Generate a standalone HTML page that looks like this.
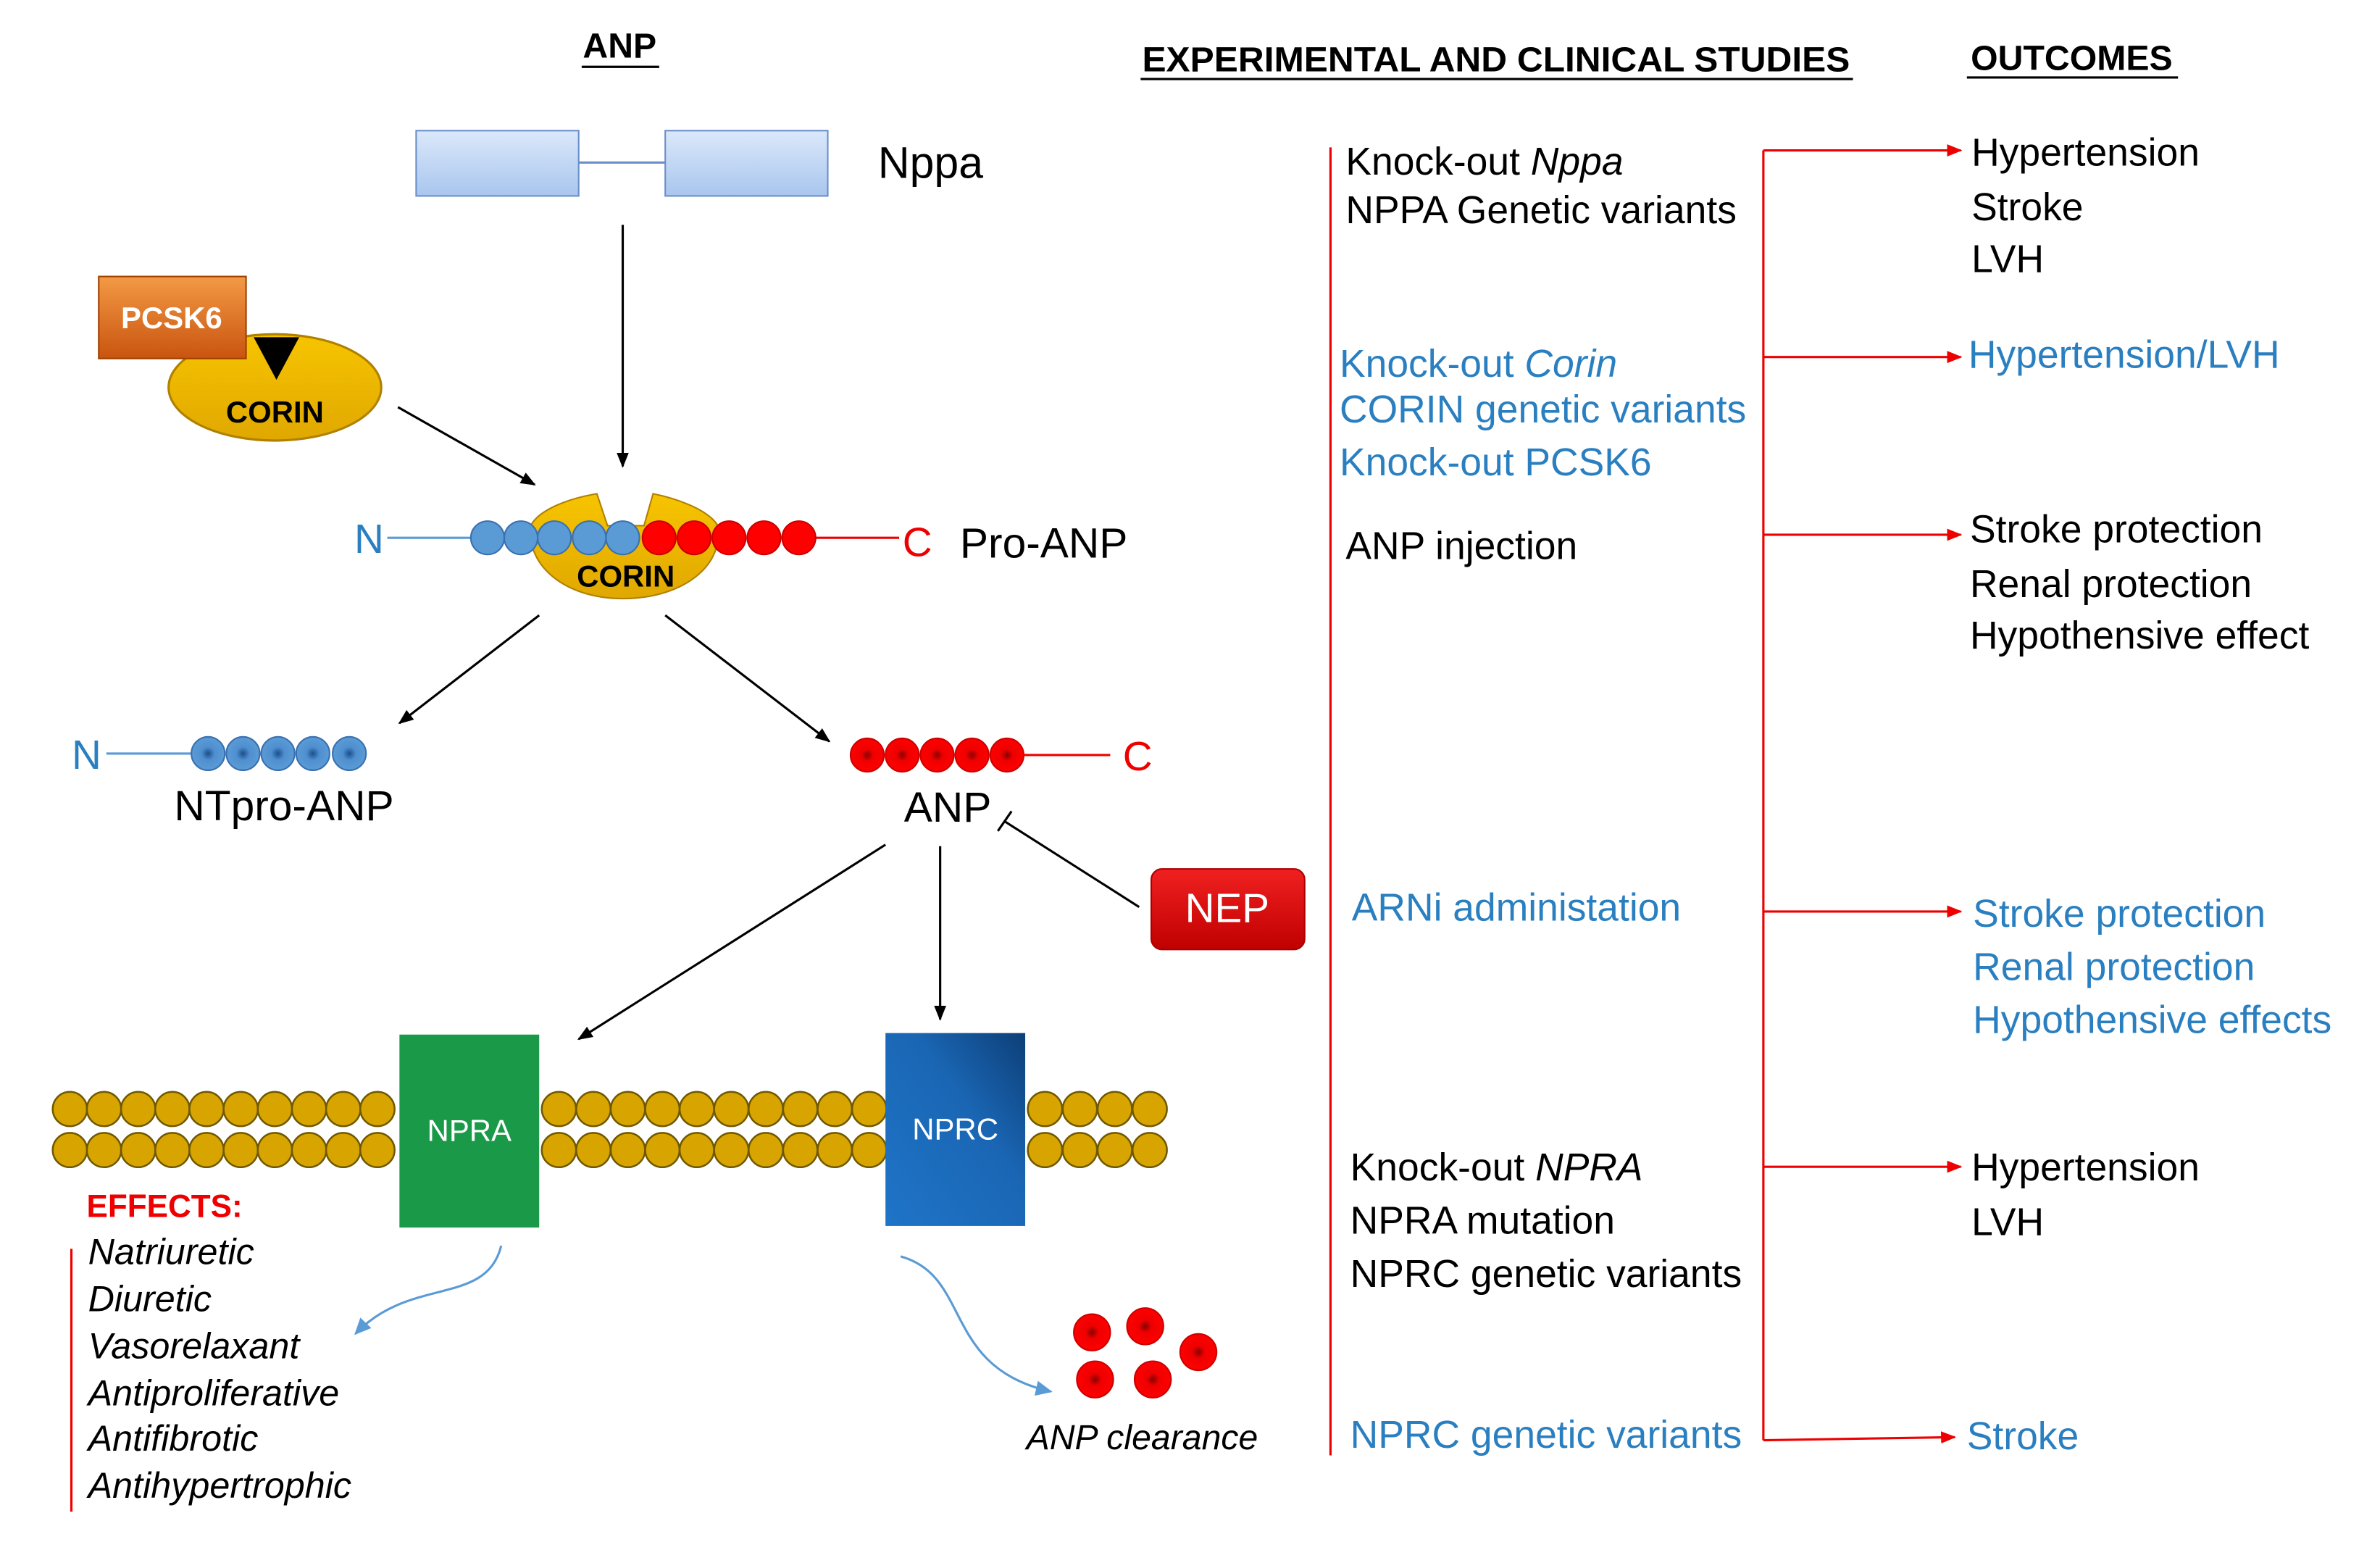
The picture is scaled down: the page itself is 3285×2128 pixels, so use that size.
<!DOCTYPE html>
<html><head><meta charset="utf-8"><style>html,body{margin:0;padding:0;background:#fff}svg{display:block}</style></head>
<body>
<svg width="3285" height="2128" viewBox="0 0 1567 1015" preserveAspectRatio="none" xmlns="http://www.w3.org/2000/svg" font-family="'Liberation Sans', sans-serif" xml:space="preserve">
<defs>
<linearGradient id="gb" x1="0" y1="0" x2="0" y2="1"><stop offset="0" stop-color="#dbe8fa"/><stop offset="1" stop-color="#a9c6ee"/></linearGradient>
<linearGradient id="go" x1="0" y1="0" x2="0" y2="1"><stop offset="0" stop-color="#f39a45"/><stop offset="1" stop-color="#c9540f"/></linearGradient>
<linearGradient id="gc" x1="0" y1="0" x2="0" y2="1"><stop offset="0" stop-color="#f7c400"/><stop offset="1" stop-color="#e0a800"/></linearGradient>
<linearGradient id="gn" x1="0" y1="1" x2="1" y2="0"><stop offset="0" stop-color="#1f74c8"/><stop offset="0.6" stop-color="#1a66b4"/><stop offset="1" stop-color="#0d3f78"/></linearGradient>
<linearGradient id="gr" x1="0" y1="0" x2="0" y2="1"><stop offset="0" stop-color="#f02020"/><stop offset="1" stop-color="#c00000"/></linearGradient>
<radialGradient id="bl"><stop offset="0" stop-color="#1b4f8a"/><stop offset="0.4" stop-color="#4f8fd0"/><stop offset="1" stop-color="#5b9bd5"/></radialGradient>
<radialGradient id="rd"><stop offset="0" stop-color="#800"/><stop offset="0.35" stop-color="#e00"/><stop offset="1" stop-color="#f00"/></radialGradient>
<marker id="ak" markerWidth="10" markerHeight="10" refX="9" refY="5" orient="auto" markerUnits="userSpaceOnUse"><path d="M0,1 L10,5 L0,9 z" fill="#000"/></marker>
<marker id="ar" markerWidth="10" markerHeight="10" refX="9" refY="5" orient="auto" markerUnits="userSpaceOnUse"><path d="M0,1 L10,5 L0,9 z" fill="#e00"/></marker>
<marker id="ab" markerWidth="12" markerHeight="12" refX="10" refY="6" orient="auto" markerUnits="userSpaceOnUse"><path d="M0,1 L11,6 L0,11 z" fill="#5b9bd5"/></marker>
</defs>

<g font-weight="bold" font-size="23">
<text x="408" y="38" text-anchor="middle">ANP</text>
<text x="985" y="47" text-anchor="middle" textLength="466" lengthAdjust="spacingAndGlyphs">EXPERIMENTAL AND CLINICAL STUDIES</text>
<text x="1364" y="46" text-anchor="middle">OUTCOMES</text>
</g>
<line x1="383" y1="44" x2="434" y2="44" stroke="#000" stroke-width="1.5"/>
<line x1="751" y1="52" x2="1220" y2="52" stroke="#000" stroke-width="1.5"/>
<line x1="1295" y1="51" x2="1434" y2="51" stroke="#000" stroke-width="1.5"/>

<rect x="274" y="86" width="107" height="43" fill="url(#gb)" stroke="#6a8fc8"/>
<line x1="381" y1="107" x2="438" y2="107" stroke="#6a8fc8" stroke-width="1.5"/>
<rect x="438" y="86" width="107" height="43" fill="url(#gb)" stroke="#6a8fc8"/>
<text x="578" y="117" font-size="29">Nppa</text>
<line x1="410" y1="148" x2="410" y2="307" stroke="#000" stroke-width="1.5" marker-end="url(#ak)"/>

<ellipse cx="181" cy="255" rx="70" ry="35" fill="url(#gc)" stroke="#b08000" stroke-width="1.5"/>
<rect x="65" y="182" width="97" height="54" fill="url(#go)" stroke="#a04000"/>
<text x="113" y="216" font-size="20" font-weight="bold" fill="#fff" text-anchor="middle">PCSK6</text>
<path d="M167,222 L197,222 L182,250 z" fill="#000"/>
<text x="181" y="278" font-size="20" font-weight="bold" text-anchor="middle">CORIN</text>
<line x1="262" y1="268" x2="352" y2="319" stroke="#000" stroke-width="1.5" marker-end="url(#ak)"/>

<path d="M350,345 C345,370 370,394 410,394 C452,394 478,370 472,345 C465,335 445,328 430,325 L424,346 L400,346 L393,325 C375,328 356,335 350,345 z" fill="url(#gc)" stroke="#b08000"/>
<line x1="255" y1="354" x2="312" y2="354" stroke="#5b9bd5" stroke-width="1.5"/>
<line x1="536" y1="354" x2="592" y2="354" stroke="#e00" stroke-width="1.5"/>
<g fill="#5b9bd5" stroke="#3a70b0"><circle cx="321" cy="354" r="11"/><circle cx="343" cy="354" r="11"/><circle cx="365" cy="354" r="11"/><circle cx="388" cy="354" r="11"/><circle cx="410" cy="354" r="11"/></g>
<g fill="#f00" stroke="#c00"><circle cx="434" cy="354" r="11"/><circle cx="457" cy="354" r="11"/><circle cx="480" cy="354" r="11"/><circle cx="503" cy="354" r="11"/><circle cx="526" cy="354" r="11"/></g>
<text x="412" y="386" font-size="20" font-weight="bold" text-anchor="middle">CORIN</text>
<text x="243" y="364" font-size="27" fill="#2a7fc0" text-anchor="middle">N</text>
<text x="604" y="366" font-size="27" fill="#e00" text-anchor="middle">C</text>
<text x="632" y="367" font-size="28">Pro-ANP</text>
<line x1="355" y1="405" x2="263" y2="476" stroke="#000" stroke-width="1.5" marker-end="url(#ak)"/>
<line x1="438" y1="405" x2="546" y2="488" stroke="#000" stroke-width="1.5" marker-end="url(#ak)"/>

<text x="57" y="506" font-size="27" fill="#2a7fc0" text-anchor="middle">N</text>
<line x1="70" y1="496" x2="128" y2="496" stroke="#5b9bd5" stroke-width="1.5"/>
<g fill="url(#bl)" stroke="#3a70b0"><circle cx="137" cy="496" r="11"/><circle cx="160" cy="496" r="11"/><circle cx="183" cy="496" r="11"/><circle cx="206" cy="496" r="11"/><circle cx="230" cy="496" r="11"/></g>
<text x="187" y="540" font-size="28" text-anchor="middle">NTpro-ANP</text>

<g fill="url(#rd)" stroke="#c00"><circle cx="571" cy="497" r="11"/><circle cx="594" cy="497" r="11"/><circle cx="617" cy="497" r="11"/><circle cx="640" cy="497" r="11"/><circle cx="663" cy="497" r="11"/></g>
<line x1="674" y1="497" x2="731" y2="497" stroke="#e00" stroke-width="1.5"/>
<text x="749" y="507" font-size="27" fill="#e00" text-anchor="middle">C</text>
<text x="624" y="541" font-size="28" text-anchor="middle">ANP</text>

<rect x="758" y="572" width="101" height="53" rx="7" fill="url(#gr)" stroke="#a00"/>
<text x="808" y="607" font-size="27" fill="#fff" text-anchor="middle">NEP</text>
<line x1="750" y1="597" x2="662" y2="541" stroke="#000" stroke-width="1.5"/>
<line x1="657" y1="547" x2="666" y2="534" stroke="#000" stroke-width="1.5"/>
<line x1="583" y1="556" x2="381" y2="684" stroke="#000" stroke-width="1.5" marker-end="url(#ak)"/>
<line x1="619" y1="557" x2="619" y2="671" stroke="#000" stroke-width="1.5" marker-end="url(#ak)"/>

<g fill="#d8a400" stroke="#6e5800" stroke-width="1.2">
<circle cx="46" cy="730" r="11.3"/><circle cx="68.5" cy="730" r="11.3"/><circle cx="91" cy="730" r="11.3"/><circle cx="113.5" cy="730" r="11.3"/><circle cx="136" cy="730" r="11.3"/><circle cx="158.5" cy="730" r="11.3"/><circle cx="181" cy="730" r="11.3"/><circle cx="203.5" cy="730" r="11.3"/><circle cx="226" cy="730" r="11.3"/><circle cx="248.5" cy="730" r="11.3"/>
<circle cx="46" cy="757" r="11.3"/><circle cx="68.5" cy="757" r="11.3"/><circle cx="91" cy="757" r="11.3"/><circle cx="113.5" cy="757" r="11.3"/><circle cx="136" cy="757" r="11.3"/><circle cx="158.5" cy="757" r="11.3"/><circle cx="181" cy="757" r="11.3"/><circle cx="203.5" cy="757" r="11.3"/><circle cx="226" cy="757" r="11.3"/><circle cx="248.5" cy="757" r="11.3"/>
<circle cx="368" cy="730" r="11.3"/><circle cx="390.7" cy="730" r="11.3"/><circle cx="413.4" cy="730" r="11.3"/><circle cx="436.1" cy="730" r="11.3"/><circle cx="458.8" cy="730" r="11.3"/><circle cx="481.5" cy="730" r="11.3"/><circle cx="504.2" cy="730" r="11.3"/><circle cx="526.9" cy="730" r="11.3"/><circle cx="549.6" cy="730" r="11.3"/><circle cx="572.3" cy="730" r="11.3"/>
<circle cx="368" cy="757" r="11.3"/><circle cx="390.7" cy="757" r="11.3"/><circle cx="413.4" cy="757" r="11.3"/><circle cx="436.1" cy="757" r="11.3"/><circle cx="458.8" cy="757" r="11.3"/><circle cx="481.5" cy="757" r="11.3"/><circle cx="504.2" cy="757" r="11.3"/><circle cx="526.9" cy="757" r="11.3"/><circle cx="549.6" cy="757" r="11.3"/><circle cx="572.3" cy="757" r="11.3"/>
<circle cx="688" cy="730" r="11.3"/><circle cx="711" cy="730" r="11.3"/><circle cx="734" cy="730" r="11.3"/><circle cx="757" cy="730" r="11.3"/>
<circle cx="688" cy="757" r="11.3"/><circle cx="711" cy="757" r="11.3"/><circle cx="734" cy="757" r="11.3"/><circle cx="757" cy="757" r="11.3"/>
</g>
<rect x="263" y="681" width="92" height="127" fill="#1a9a48"/>
<text x="309" y="751" font-size="20" fill="#fff" text-anchor="middle">NPRA</text>
<rect x="583" y="680" width="92" height="127" fill="url(#gn)"/>
<text x="629" y="750" font-size="20" fill="#fff" text-anchor="middle">NPRC</text>

<text x="57" y="801" font-size="21" font-weight="bold" fill="#e00">EFFECTS:</text>
<line x1="47" y1="822" x2="47" y2="995" stroke="#e00" stroke-width="1.5"/>
<g font-size="24" font-style="italic">
<text x="58" y="832">Natriuretic</text>
<text x="58" y="863">Diuretic</text>
<text x="58" y="894">Vasorelaxant</text>
<text x="58" y="925">Antiproliferative</text>
<text x="58" y="955">Antifibrotic</text>
<text x="58" y="986">Antihypertrophic</text>
</g>
<path d="M330,820 C320,860 270,840 234,878" fill="none" stroke="#5b9bd5" stroke-width="1.5" marker-end="url(#ab)"/>
<path d="M593,827 C640,840 620,900 692,916" fill="none" stroke="#5b9bd5" stroke-width="1.5" marker-end="url(#ab)"/>
<g fill="url(#rd)" stroke="#c00"><circle cx="719" cy="877" r="12"/><circle cx="754" cy="873" r="12"/><circle cx="789" cy="890" r="12"/><circle cx="721" cy="908" r="12"/><circle cx="759" cy="908" r="12"/></g>
<text x="752" y="954" font-size="23" font-style="italic" text-anchor="middle">ANP clearance</text>

<line x1="876" y1="97" x2="876" y2="958" stroke="#e00" stroke-width="1.5"/>
<line x1="1161" y1="99" x2="1161" y2="948" stroke="#e00" stroke-width="1.5"/>
<g stroke="#e00" stroke-width="1.5" marker-end="url(#ar)">
<line x1="1161" y1="99" x2="1291" y2="99"/>
<line x1="1161" y1="235" x2="1291" y2="235"/>
<line x1="1161" y1="352" x2="1291" y2="352"/>
<line x1="1161" y1="600" x2="1291" y2="600"/>
<line x1="1161" y1="768" x2="1291" y2="768"/>
<line x1="1161" y1="948" x2="1287" y2="946"/>
</g>
<g font-size="25.5">
<text x="886" y="115">Knock-out <tspan font-style="italic">Nppa</tspan></text>
<text x="886" y="147">NPPA Genetic variants</text>
<g fill="#2a7fc0">
<text x="882" y="248">Knock-out <tspan font-style="italic">Corin</tspan></text>
<text x="882" y="278">CORIN genetic variants</text>
<text x="882" y="313">Knock-out PCSK6</text>
<text x="890" y="606">ARNi administation</text>
<text x="889" y="953">NPRC genetic variants</text>
<text x="1296" y="242">Hypertension/LVH</text>
<text x="1299" y="610">Stroke protection</text>
<text x="1299" y="645">Renal protection</text>
<text x="1299" y="680">Hypothensive  effects</text>
<text x="1295" y="954">Stroke</text>
</g>
<text x="886" y="368">ANP injection</text>
<text x="889" y="777">Knock-out <tspan font-style="italic">NPRA</tspan></text>
<text x="889" y="812">NPRA mutation</text>
<text x="889" y="847">NPRC genetic variants</text>
<text x="1298" y="109">Hypertension</text>
<text x="1298" y="145">Stroke</text>
<text x="1298" y="179">LVH</text>
<text x="1297" y="357">Stroke protection</text>
<text x="1297" y="393">Renal protection</text>
<text x="1297" y="427">Hypothensive  effect</text>
<text x="1298" y="777">Hypertension</text>
<text x="1298" y="813">LVH</text>
</g>
</svg>
</body></html>
